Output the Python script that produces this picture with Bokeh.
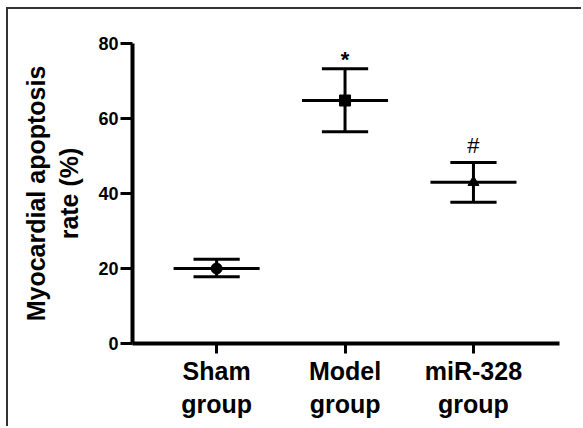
from bokeh.plotting import figure
from bokeh.models import FixedTicker, Range1d, ColumnDataSource
from bokeh.core.properties import value
from bokeh.embed import file_html
from bokeh.resources import INLINE

# ---- data ----
groups = ["Sham\ngroup", "Model\ngroup", "miR-328\ngroup"]
xpos = [1, 2, 3]
means = [20.0, 64.8, 43.0]
uppers = [22.5, 73.3, 48.3]
lowers = [17.8, 56.5, 37.7]
markers = ["circle", "square", "triangle"]
signif = ["", "*", "#"]
y_ticks = [0, 20, 40, 60, 80]

FONT = "Liberation Sans"
mean_hw = 0.335
cap_hw = 0.18

# panel frame: margin 6px + 2px border line, content starts at (8, 9)
OFF_X, OFF_Y = 8, 9

p = figure(width=583 - OFF_X, height=428 - OFF_Y, output_backend="svg", toolbar_location=None,
           x_range=Range1d(0.345, 3.67), y_range=Range1d(0, 80),
           min_border_left=132 - OFF_X, min_border_right=24,
           min_border_top=43 - OFF_Y, min_border_bottom=85)
p.margin = (7, 0, 0, 6)
p.styles = {"border-top": "2px solid #333333", "border-left": "2px solid #333333"}
p.background_fill_color = "white"
p.border_fill_color = "white"
p.outline_line_color = None
p.grid.visible = False

# axes
for ax in (p.xaxis[0], p.yaxis[0]):
    ax.axis_line_width = 4
    ax.axis_line_color = "black"
    ax.major_tick_line_width = 3
    ax.major_tick_line_color = "black"
    ax.minor_tick_line_color = None
    ax.major_tick_in = 0
    ax.major_label_text_font = FONT
    ax.major_label_text_font_style = "bold"
    ax.major_label_text_color = "black"

p.yaxis.ticker = FixedTicker(ticks=y_ticks)
p.yaxis.major_tick_out = 12
p.yaxis.major_label_standoff = 2
p.yaxis.major_label_text_font_size = "18px"
p.yaxis.axis_label = "Myocardial apoptosis\nrate (%)"
p.yaxis.axis_label_text_font = FONT
p.yaxis.axis_label_text_font_style = "bold"
p.yaxis.axis_label_text_font_size = "25px"
p.yaxis.axis_label_standoff = 12
p.yaxis.axis_label_text_color = "black"

p.xaxis.ticker = FixedTicker(ticks=xpos)
p.xaxis.major_label_overrides = {x: g for x, g in zip(xpos, groups)}
p.xaxis.major_tick_out = 10
p.xaxis.major_label_standoff = 3
p.xaxis.major_label_text_font_size = "25px"
p.xaxis.major_label_text_line_height = 1.2

src = ColumnDataSource(dict(
    x=xpos, m=means, u=uppers, l=lowers, marker=markers,
    mx0=[x - mean_hw for x in xpos], mx1=[x + mean_hw for x in xpos],
    cx0=[x - cap_hw for x in xpos], cx1=[x + cap_hw for x in xpos],
))

p.segment(x0="x", y0="l", x1="x", y1="u", source=src, line_width=3, line_color="black")
p.segment(x0="cx0", y0="u", x1="cx1", y1="u", source=src, line_width=3, line_color="black")
p.segment(x0="cx0", y0="l", x1="cx1", y1="l", source=src, line_width=3, line_color="black")
p.segment(x0="mx0", y0="m", x1="mx1", y1="m", source=src, line_width=3, line_color="black")
p.scatter(x="x", y="m", marker="marker", size=11, source=src,
          fill_color="black", line_color="black")

# significance marks above the upper error bars
txt = ColumnDataSource(dict(x=[2, 3], y=[uppers[1] + 2.4, uppers[2] + 4.4],
                            t=[signif[1], signif[2]], fs=["bold", "normal"]))
p.text(x="x", y="y", text="t", source=txt, text_align="center", text_baseline="middle",
       text_font=value(FONT), text_font_style="fs", text_font_size="22px", text_color="black")

open("out.html", "w").write(file_html(p, INLINE))
